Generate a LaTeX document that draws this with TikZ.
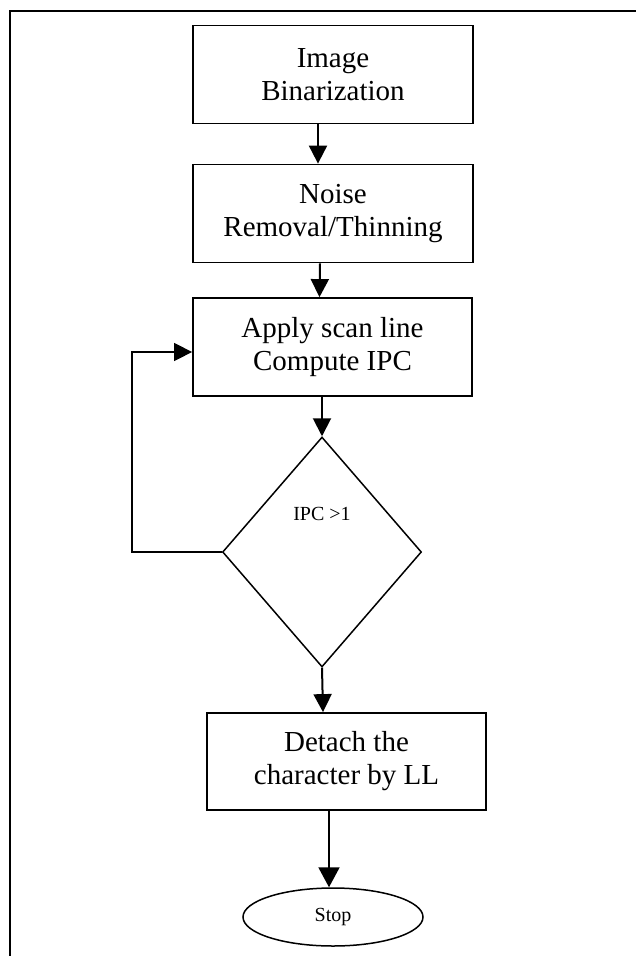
\documentclass[tikz,border=0pt]{standalone}
\usepackage{fontspec}
\setmainfont{Liberation Serif}
\usetikzlibrary{arrows.meta,shapes.geometric,calc}
\begin{document}
\begin{tikzpicture}[x=1pt,y=-1pt,
  procbox/.style={draw, line width=1.8pt, minimum width=280pt, minimum height=98pt, inner sep=0pt,
    align=center, font=\fontsize{29}{33}\selectfont},
  decis/.style={draw, diamond, line width=1.5pt, minimum width=199pt, minimum height=230pt, inner sep=0pt},
  termin/.style={draw, ellipse, line width=1.5pt, minimum width=180pt, minimum height=58pt, inner sep=0pt,
    font=\fontsize{20}{24}\selectfont},
  arr/.style={line width=2pt, -{Triangle[width=18pt,length=18pt]}},
  arrbig/.style={line width=2pt, -{Triangle[width=21pt,length=20pt]}},
  loopline/.style={line width=1.5pt, -{Triangle[width=18pt,length=18pt]}}
]
\useasboundingbox (0,0) rectangle (636,956);
\draw[line width=1.5pt] (10,956) -- (10,11) -- (636,11);

\node[procbox] (b1) at (333,74.5) {Image\\Binarization};
\node[procbox] (b2) at (333,213.5) {Noise\\Removal/Thinning};
\node[procbox, minimum width=279pt] (b3) at (332.5,347) {Apply scan line\\Compute IPC};
\node[decis] (d) at (322,552) {};
\node[font=\fontsize{20}{24}\selectfont] (dt) at (322,514) {IPC >1};
\node[procbox, minimum width=279pt, minimum height=97pt] (b4) at (346.5,761.5) {Detach the\\character by LL};
\node[termin] (stop) at (333,917) {Stop};

\draw[arr] ([xshift=-15pt]b1.south) -- ([xshift=-15pt]b2.north);
\draw[arr] ([xshift=-13pt]b2.south) -- ([xshift=-13pt]b3.north);
\draw[arr] (b3.south -| d.north) -- (d.north);
\draw[arr] (d.south) -- ([xshift=1pt]d.south |- b4.north);
\coordinate (stoptop) at ([xshift=-4pt]stop.north);
\draw[arrbig] (b4.south -| stoptop) -- (stoptop);
\coordinate (loopcorner) at (132,352);
\draw[loopline] (d.west) -- (d.west -| loopcorner) -- (loopcorner) -- (b3.west |- loopcorner);
\end{tikzpicture}
\end{document}
